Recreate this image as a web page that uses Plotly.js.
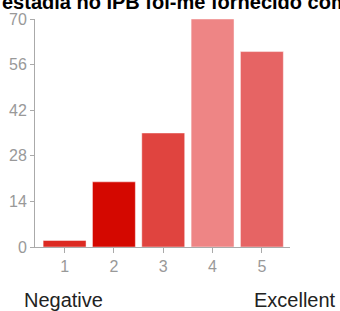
<!DOCTYPE html>
<html>
<head>
<meta charset="utf-8">
<script src="https://cdn.plot.ly/plotly-3.0.1.min.js"></script>
<style>html,body{margin:0;padding:0;background:#fff;}#chart{width:340px;height:311px;}</style>
</head>
<body>
<div id="chart"></div>
<script>
const categories = [1, 2, 3, 4, 5];
const values = [2, 20, 35, 70, 60];
const barColors = ['#dc2a22', '#d40800', '#e0443f', '#ee8585', '#e66464'];
const yTicks = [0, 14, 28, 42, 56, 70];
const titleText = 'estadia no IPB foi-me fornecido com';
const lowLabel = 'Negative';
const highLabel = 'Excellent';

const axisColor = '#aaaaaa';
const trace = {
  type: 'bar',
  x: categories,
  y: values,
  marker: {color: barColors, line: {color: 'rgba(255,255,255,0.45)', width: 1}},
  hoverinfo: 'none'
};

const layout = {
  width: 340, height: 311,
  margin: {l: 35, r: 50, t: 19, b: 64, pad: 0},
  paper_bgcolor: '#fff', plot_bgcolor: '#fff',
  bargap: 0.13,
  showlegend: false,
  font: {family: 'Arial, "Liberation Sans", sans-serif'},
  xaxis: {
    range: [0.4, 5.57], tickvals: categories, ticktext: categories.map(String),
    showgrid: false, zeroline: false, showline: true, linecolor: axisColor, linewidth: 1,
    ticks: 'outside', ticklen: 5, tickcolor: axisColor,
    tickfont: {size: 16, color: '#999999'}, fixedrange: true
  },
  yaxis: {
    range: [0, 70], tickvals: yTicks, ticktext: yTicks.map(String),
    showgrid: false, zeroline: false, showline: true, linecolor: axisColor, linewidth: 1,
    ticks: 'outside', ticklen: 4, tickcolor: axisColor,
    tickfont: {size: 16, color: '#999999'}, fixedrange: true
  },
  annotations: [
    {text: '<b>' + titleText + '</b>', xref: 'paper', yref: 'paper', x: -35/255, y: 1 + 16.8/228,
     xanchor: 'left', yanchor: 'middle', showarrow: false, font: {size: 20, color: '#000'}},
    {text: lowLabel, xref: 'paper', yref: 'paper', x: (22 - 35)/255, y: -(300 - 247)/228,
     xanchor: 'left', yanchor: 'middle', showarrow: false, font: {size: 20, color: '#222'}},
    {text: highLabel, xref: 'paper', yref: 'paper', x: (252 - 35)/255, y: -(300 - 247)/228,
     xanchor: 'left', yanchor: 'middle', showarrow: false, font: {size: 20, color: '#222'}}
  ]
};

Plotly.newPlot('chart', [trace], layout, {displayModeBar: false, staticPlot: true});
</script>
</body>
</html>
